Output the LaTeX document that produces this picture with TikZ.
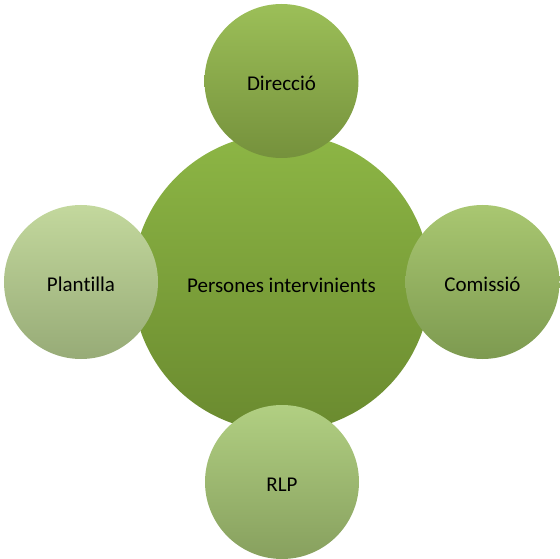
\documentclass[tikz,border=0pt]{standalone}
\usepackage{fontspec}
\setmainfont[Ligatures={NoCommon,NoRare}]{Carlito}
\definecolor{cTop}{HTML}{8DB645}
\definecolor{cBot}{HTML}{6A8A2F}
\definecolor{dTop}{HTML}{9CBF58}
\definecolor{dBot}{HTML}{75913C}
\definecolor{pTop}{HTML}{C3D89D}
\definecolor{pBot}{HTML}{97AB77}
\definecolor{kTop}{HTML}{A9C771}
\definecolor{kBot}{HTML}{7D9A50}
\definecolor{rTop}{HTML}{B1CF82}
\definecolor{rBot}{HTML}{87A05E}
\newcommand\bubtxt[1]{\raisebox{-2.5pt}[\height][\depth]{#1}}
\tikzset{
  bubble/.style={circle, inner sep=0pt, font=\fontsize{21}{24}\selectfont, text=black},
}
\begin{document}
\begin{tikzpicture}[x=1pt,y=-1pt]
\useasboundingbox (0,0) rectangle (560,559);
\node[bubble, minimum size=298pt, top color=cTop, bottom color=cBot] (c) at (281.5,282.5) {\bubtxt{Persones intervinients}};
\node[bubble, minimum size=154pt, top color=dTop, bottom color=dBot] (d) at (281.5,81) {\bubtxt{Direcció}};
\node[bubble, minimum size=154pt, top color=pTop, bottom color=pBot] (p) at (81,282) {\bubtxt{Plantilla}};
\node[bubble, minimum size=154pt, top color=kTop, bottom color=kBot] (k) at (482.5,282) {\bubtxt{Comissió}};
\node[bubble, minimum size=154pt, top color=rTop, bottom color=rBot] (r) at (282,482) {\bubtxt{RLP}};
\end{tikzpicture}
\end{document}
